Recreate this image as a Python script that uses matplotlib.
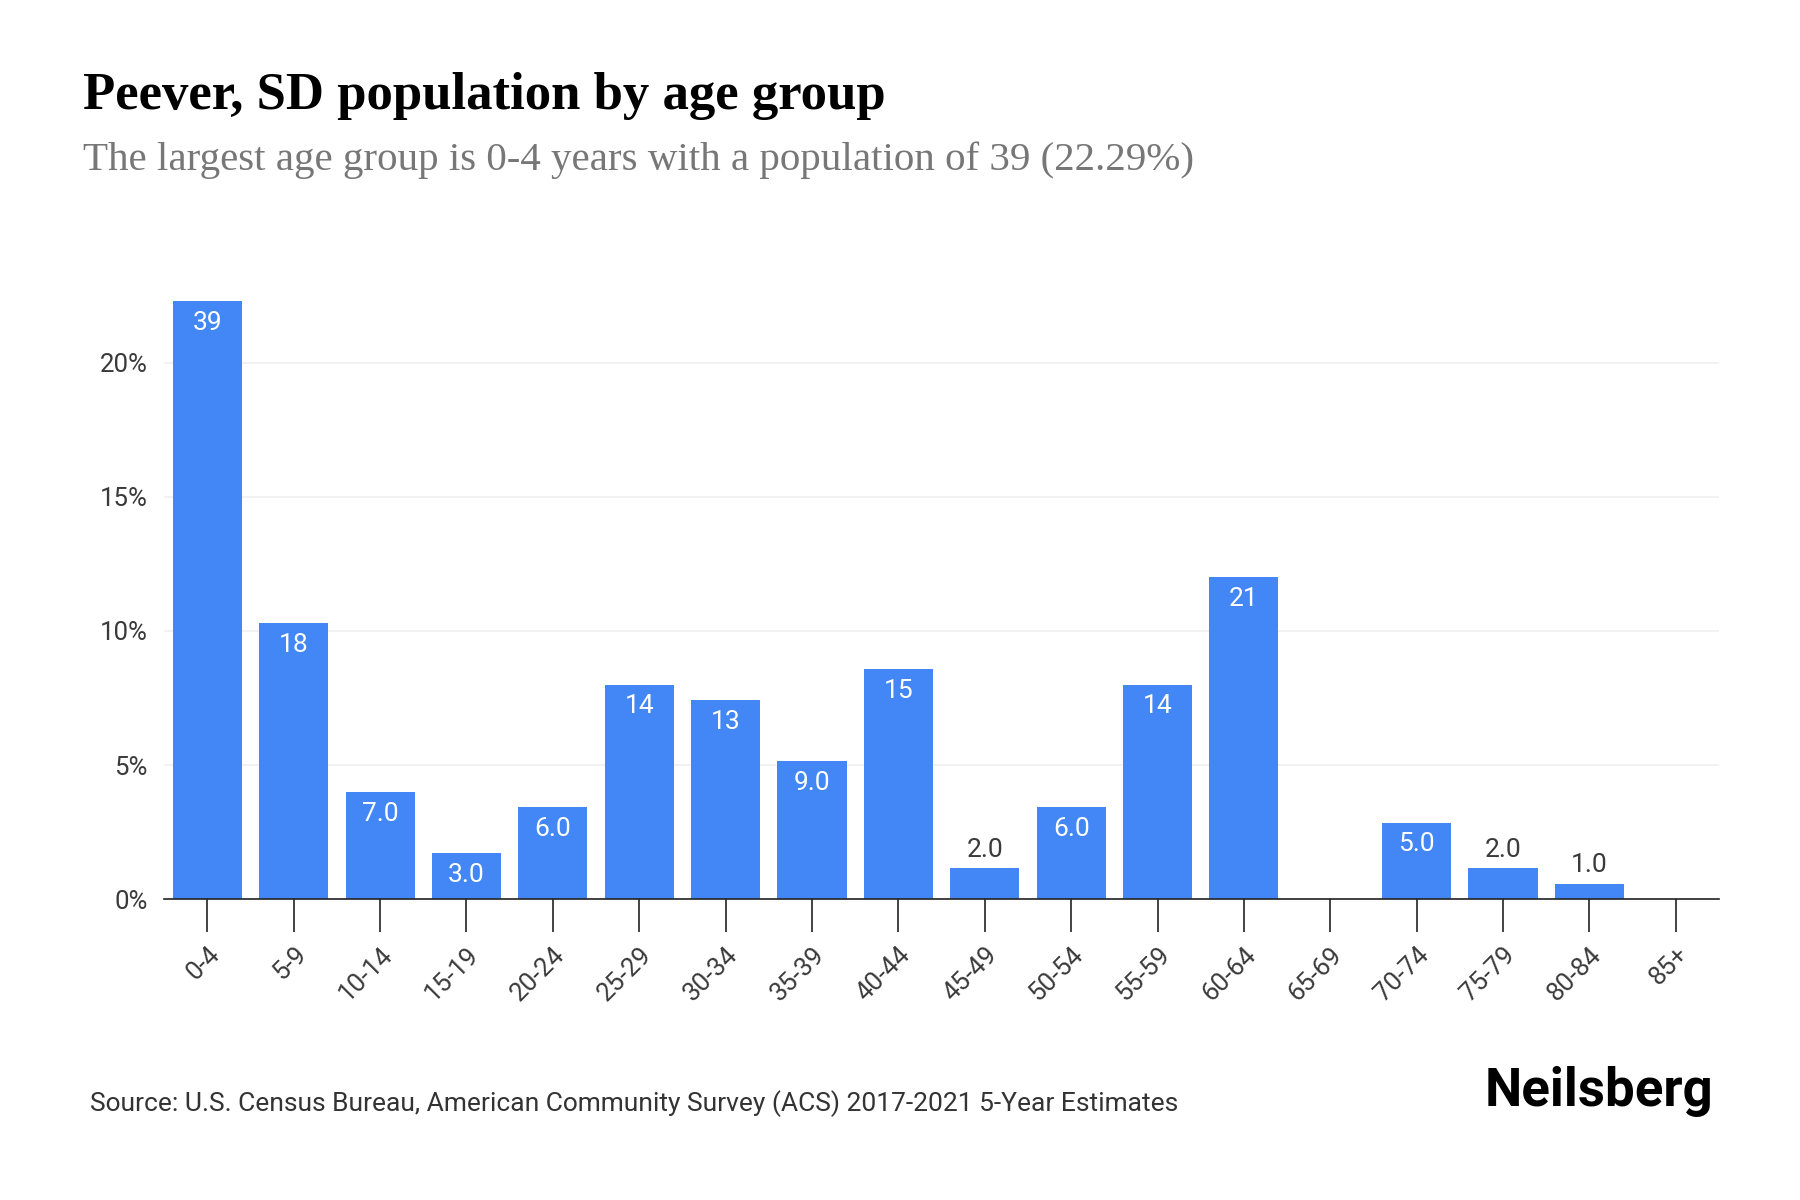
import matplotlib
matplotlib.use("Agg")
import matplotlib.pyplot as plt
import numpy as np
from matplotlib.ticker import FuncFormatter

AGE_GROUPS = ["0-4", "5-9", "10-14", "15-19", "20-24", "25-29", "30-34", "35-39",
              "40-44", "45-49", "50-54", "55-59", "60-64", "65-69", "70-74",
              "75-79", "80-84", "85+"]
POPULATION = [39, 18, 7, 3, 6, 14, 13, 9, 15, 2, 6, 14, 21, 0, 5, 2, 1, 0]
Y_TICKS = [0, 5, 10, 15, 20]

TITLE = "Peever, SD population by age group"
SUBTITLE = "The largest age group is 0-4 years with a population of 39 (22.29%)"
SOURCE = "Source: U.S. Census Bureau, American Community Survey (ACS) 2017-2021 5-Year Estimates"

BAR_COLOR = "#4287F5"
TEXT_COLOR = "#3a3a3a"
SANS = ["Roboto", "DejaVu Sans"]
SERIF = ["Liberation Serif", "DejaVu Serif"]


def value_label(v):
    return f"{v:.1f}" if v < 10 else f"{v:d}"


def main():
    pop = np.array(POPULATION, dtype=float)
    share = pop / pop.sum() * 100
    x = np.arange(len(AGE_GROUPS))

    fig = plt.figure(figsize=(18, 12), dpi=100)
    ax = fig.add_axes([0.0912, 0.2507, 0.8638, 0.5366])

    ax.bar(x, share, width=0.8, color=BAR_COLOR, zorder=2)
    ax.set_xlim(-0.5, len(AGE_GROUPS) - 0.5)
    ax.set_ylim(0, 24)

    ax.set_yticks(Y_TICKS)
    ax.yaxis.set_major_formatter(FuncFormatter(lambda v, _: f"{v:.0f}%"))
    ax.grid(axis="y", color="#f0f0f0", linewidth=1.2, zorder=0)
    ax.tick_params(axis="y", length=0, pad=12, labelsize=18.5, labelcolor=TEXT_COLOR)
    ax.set_xticks(x)
    ax.set_xticklabels(AGE_GROUPS, rotation=45, ha="right", rotation_mode="anchor",
                       fontsize=18.5, color=TEXT_COLOR, family=SANS)
    ax.tick_params(axis="x", length=24, width=1.2, color="#222222", pad=7)
    for lab in ax.get_yticklabels():
        lab.set_family(SANS)

    for side in ("top", "right", "left"):
        ax.spines[side].set_visible(False)
    ax.spines["bottom"].set_color("#222222")
    ax.spines["bottom"].set_linewidth(1.2)

    for xi, v, s in zip(x, POPULATION, share):
        if v == 0:
            continue
        if s >= 1.5:
            ax.annotate(value_label(v), (xi, s), xytext=(0, -7), textcoords="offset points",
                        ha="center", va="top", color="white", fontsize=19,
                        family=SANS, zorder=3)
        else:
            ax.annotate(value_label(v), (xi, s), xytext=(0, 5), textcoords="offset points",
                        ha="center", va="bottom", color=TEXT_COLOR, fontsize=19,
                        family=SANS, zorder=3)

    fig.text(0.046, 0.909, TITLE, fontsize=38, fontweight="bold", family=SERIF,
             color="black", va="baseline")
    fig.text(0.046, 0.858, SUBTITLE, fontsize=29.5, family=SERIF, color="#777777",
             va="baseline")
    fig.text(0.05, 0.074, SOURCE, fontsize=19, family=SANS,
             color="#333333", va="baseline")
    fig.text(0.952, 0.078, "Neilsberg", fontsize=38, family=SANS, fontweight="bold",
             color="black", ha="right", va="baseline")

    fig.savefig("out.png", dpi=100, facecolor="white")
    plt.close(fig)


if __name__ == "__main__":
    main()
